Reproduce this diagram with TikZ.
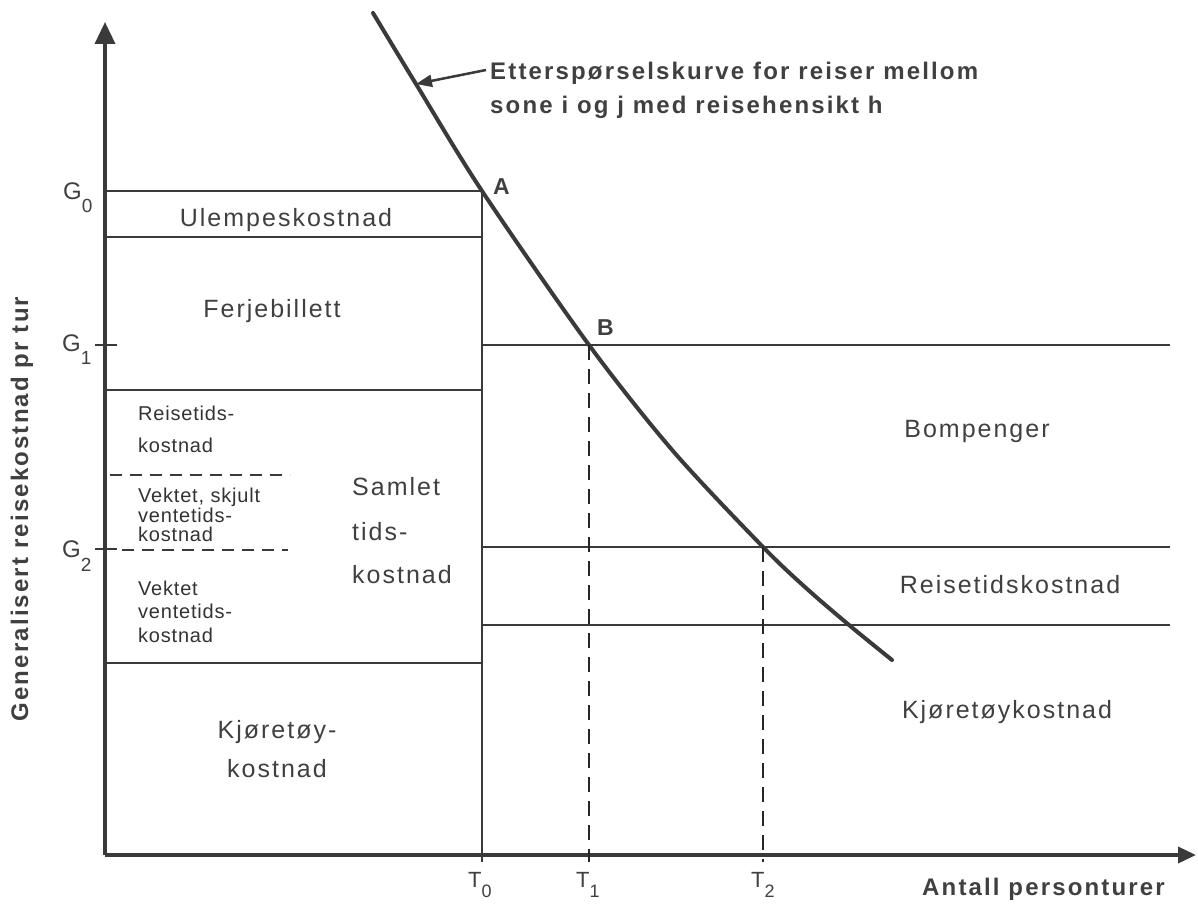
\documentclass[tikz,border=0pt]{standalone}
\usepackage{fontspec}
\setmainfont{Liberation Sans}
\newfontfamily\labfont{Liberation Sans}[LetterSpace=8]
\newfontfamily\smallfont{Liberation Sans}[LetterSpace=4]
\newfontfamily\headfont{Liberation Sans}[LetterSpace=9]
\usetikzlibrary{arrows.meta}
\definecolor{ink}{HTML}{3A3A3A}
\definecolor{txt}{HTML}{404040}
\begin{document}
\begin{tikzpicture}[x=1pt,y=-1pt,
  axisline/.style={draw=ink,line width=3.5pt},
  rule/.style={draw=ink,line width=2pt},
  thinrule/.style={draw=ink,line width=1.8pt},
  dashrule/.style={draw=ink,line width=1.8pt,dash pattern=on 12pt off 8pt},
  guide/.style={draw=black!85,line width=1.6pt,dash pattern=on 15pt off 9pt},
  curveline/.style={draw=ink,line width=4pt,line cap=round},
  pointer/.style={draw=ink,line width=2.5pt,-{Triangle[length=16pt,width=12pt]}},
  boxlab/.style={text=txt,font=\labfont\fontsize{25}{30}\selectfont,inner sep=0pt,anchor=base},
  smalllab/.style={text=black!80,font=\smallfont\fontsize{20}{24}\selectfont,inner sep=0pt,anchor=base west},
  headlab/.style={text=txt,font=\headfont\bfseries\fontsize{24}{30}\selectfont,inner sep=0pt},
  ticklab/.style={text=txt,font=\fontsize{24}{24}\selectfont,inner sep=0pt,anchor=base west},
  pointlab/.style={text=txt,font=\bfseries\fontsize{23}{23}\selectfont,inner sep=0pt,anchor=base west},
]
\useasboundingbox (0,0) rectangle (1198,904);
\fill[white] (0,0) rectangle (1198,904);

% axes
\coordinate (O) at (105,855);
\coordinate (ytop) at (105,22);
\coordinate (xend) at (1196,855);
\draw[axisline,-{Triangle[length=22pt,width=20pt]}] (O) -- (ytop);
\draw[axisline,-{Triangle[length=18pt,width=16pt]}] (O) -- (xend);

% left block
\coordinate (g0l) at (105,191); \coordinate (g0r) at (482,191);
\coordinate (ul) at (105,237);  \coordinate (ur) at (482,237);
\coordinate (fl) at (105,390);  \coordinate (fr) at (482,390);
\coordinate (kl) at (105,663);  \coordinate (kr) at (482,663);
\coordinate (t0) at (482,862);
\draw[rule] (g0l) -- (g0r);
\draw[rule] (ul) -- (ur);
\draw[rule] (fl) -- (fr);
\draw[rule] (kl) -- (kr);
\draw[rule] (g0r) -- (t0);

% dashed separators
\coordinate (d1l) at (110,475); \coordinate (d1r) at (290,475);
\coordinate (d2l) at (122,550); \coordinate (d2r) at (288,550);
\draw[dashrule] (d1l) -- (d1r);
\draw[dashrule] (d2l) -- (d2r);

% ticks on y axis
\coordinate (g1a) at (95,345); \coordinate (g1b) at (117,345);
\coordinate (g2a) at (95,549); \coordinate (g2b) at (117,549);
\draw[rule] (g1a) -- (g1b);
\draw[rule] (g2a) -- (g2b);

% right levels
\coordinate (r1l) at (482,345); \coordinate (r1r) at (1170,345);
\coordinate (r2l) at (482,547); \coordinate (r2r) at (1170,547);
\coordinate (r3l) at (482,625); \coordinate (r3r) at (1170,625);
\draw[thinrule] (r1l) -- (r1r);
\draw[thinrule] (r2l) -- (r2r);
\draw[thinrule] (r3l) -- (r3r);

% demand curve
\coordinate (c0) at (373,13);
\coordinate (q) at (416,84);
\coordinate (A) at (482,191);
\coordinate (B) at (589,345);
\coordinate (m1) at (673,451);
\coordinate (C) at (763,547);
\coordinate (m2) at (806,588);
\coordinate (D) at (849,625);
\coordinate (E) at (892,660);
\draw[curveline] plot[smooth,tension=0.5] coordinates {(c0) (q) (A) (B) (m1) (C) (m2) (D) (E)};

% guides
\coordinate (t1) at (589,862);
\coordinate (t2) at (763,862);
\draw[guide] (B) -- (t1);
\draw[guide] (C) -- (t2);

% curve label and pointer
\node[headlab,anchor=base west] (title1) at (490,80) {Etterspørselskurve for reiser mellom};
\node[headlab,anchor=base west] (title2) at (490,114) {sone i og j med reisehensikt h};
\coordinate (tail) at (486,70);
\draw[pointer] (tail) -- (q);

% point labels
\node[pointlab] (labA) at (493,194) {A};
\node[pointlab] (labB) at (597,335) {B};

% y tick labels
\node[ticklab] (G0) at (63,200) {G\raisebox{-13pt}{\fontsize{19}{19}\selectfont 0}};
\node[ticklab] (G1) at (62,351) {G\raisebox{-13pt}{\fontsize{19}{19}\selectfont 1}};
\node[ticklab] (G2) at (62,557) {G\raisebox{-14pt}{\fontsize{19}{19}\selectfont 2}};

% x tick labels
\node[ticklab,font=\fontsize{22}{22}\selectfont] (T0) at (468,887) {T\raisebox{-10pt}{\fontsize{18}{18}\selectfont 0}};
\node[ticklab,font=\fontsize{22}{22}\selectfont] (T1) at (576,887) {T\raisebox{-10pt}{\fontsize{18}{18}\selectfont 1}};
\node[ticklab,font=\fontsize{22}{22}\selectfont] (T2) at (751,887) {T\raisebox{-10pt}{\fontsize{18}{18}\selectfont 2}};

% axis titles
\node[headlab,anchor=base west] (xtitle) at (922,895) {Antall personturer};
\node[headlab,rotate=90] (ytitle) at (22,509) {Generalisert reisekostnad pr tur};

% left block labels
\node[boxlab] (ulempe) at (286,226) {Ulempeskostnad};
\node[boxlab] (ferje) at (272,317) {Ferjebillett};
\node[smalllab] (rt1) at (138,420) {Reisetids-};
\node[smalllab] (rt2) at (138,452) {kostnad};
\node[smalllab] (vs1) at (138,502) {Vektet, skjult};
\node[smalllab] (vs2) at (138,522) {ventetids-};
\node[smalllab] (vs3) at (138,541) {kostnad};
\node[smalllab] (vv1) at (138,595) {Vektet};
\node[smalllab] (vv2) at (138,618) {ventetids-};
\node[smalllab] (vv3) at (138,642) {kostnad};
\node[boxlab,anchor=base west] (st1) at (352,495) {Samlet};
\node[boxlab,anchor=base west] (st2) at (352,540) {tids-};
\node[boxlab,anchor=base west] (st3) at (352,583) {kostnad};
\node[boxlab] (kj1) at (277,738) {Kjøretøy-};
\node[boxlab] (kj2) at (277,777) {kostnad};

% right labels
\node[boxlab] (bom) at (977,437) {Bompenger};
\node[boxlab] (reis) at (1010,593) {Reisetidskostnad};
\node[boxlab] (kjor) at (1007,718) {Kjøretøykostnad};
\end{tikzpicture}
\end{document}
